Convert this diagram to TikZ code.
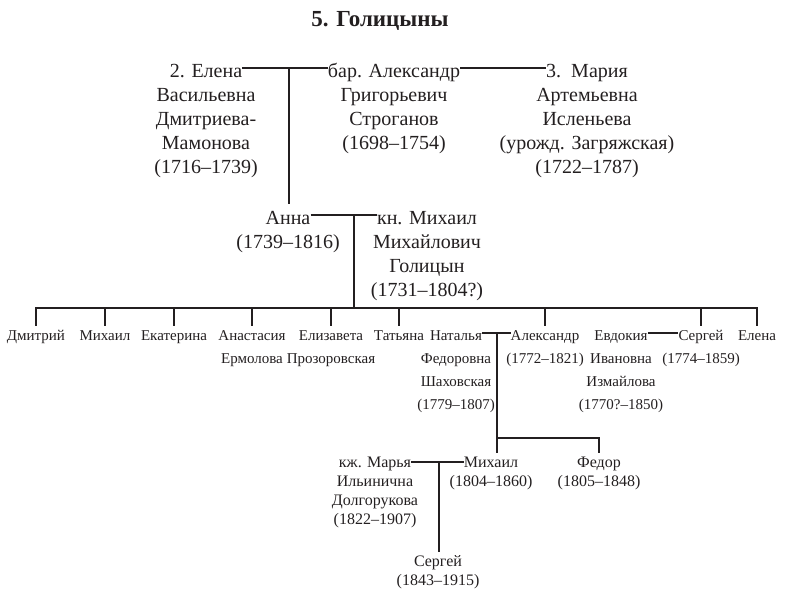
\documentclass[tikz,border=0pt]{standalone}
\usepackage{fontspec}
\setmainfont{Liberation Serif}
\usepackage{xcolor}
\usetikzlibrary{positioning}
\definecolor{ink}{HTML}{231F20}

\tikzset{
  bond/.style={draw=ink, line width=2.8pt},
  kidbond/.style={draw=ink, line width=2.5pt},
  elder/.style={text=ink, inner sep=0pt, font=\fontsize{20}{24}\selectfont, text height=20pt, text depth=2pt},
  elderrest/.style={text=ink, inner sep=0pt, font=\fontsize{20}{24}\selectfont, align=center},
  kid/.style={text=ink, inner sep=0pt, font=\fontsize{15}{23}\selectfont, text height=14pt, text depth=0pt},
  kidrest/.style={text=ink, inner sep=0pt, font=\fontsize{15}{23}\selectfont, align=center},
  grand/.style={text=ink, inner sep=0pt, font=\fontsize{16}{19}\selectfont, text height=14pt, text depth=4pt},
  grandrest/.style={text=ink, inner sep=0pt, font=\fontsize{16}{19}\selectfont, align=center}
}

\begin{document}
\begin{tikzpicture}[x=1pt, y=-1pt]
  \useasboundingbox (0,0) rectangle (800,605);

  \node[text=ink, anchor=base, font=\fontsize{23}{27}\selectfont\bfseries] (title) at (380,27) {5. Голицыны};

  % first generation
  \node[elder] (elena) at (206,68) {2. Елена};
  \node[elderrest, below=5.2pt of elena] (elena-r) {\strut Васильевна\\Дмитриева-\\Мамонова\\(1716--1739)};
  \node[elder] (stroganov) at (394,68) {бар. Александр};
  \node[elderrest, below=5.2pt of stroganov] (stroganov-r) {\strut Григорьевич\\Строганов\\(1698--1754)};
  \node[elder] (maria) at (587,68) {3.~~Мария};
  \node[elderrest, below=5.2pt of maria] (maria-r) {\strut Артемьевна\\Исленьева\\(урожд. Загряжская)\\(1722--1787)};

  \node[elder] (anna) at (288,215) {Анна};
  \node[elderrest, below=5.2pt of anna] (anna-r) {\strut(1739--1816)};
  \node[elder] (golitsyn) at (427,215) {кн. Михаил};
  \node[elderrest, below=5.2pt of golitsyn] (golitsyn-r) {\strut Михайлович\\Голицын\\(1731--1804?)};

  \coordinate (m1) at (289,68);
  \coordinate (m2) at (354,215);
  \coordinate (bar) at (354,308);

  \draw[bond] (elena) -- (stroganov);
  \draw[bond] (stroganov) -- (maria);
  \draw[bond] (m1) -- (m1 |- anna.north);
  \draw[bond] (anna) -- (golitsyn);
  \draw[bond] (m2) -- (bar);

  % children
  \node[kid] (dmitriy) at (36,333) {Дмитрий};
  \node[kid] (mikhail) at (105,333) {Михаил};
  \node[kid] (ekaterina) at (174,333) {Екатерина};
  \node[kid] (anastasia) at (252,333) {Анастасия};
  \node[kidrest, below=6.9pt of anastasia] (anastasia-r) {\strut Ермолова};
  \node[kid] (elizaveta) at (331,333) {Елизавета};
  \node[kidrest, below=6.9pt of elizaveta] (elizaveta-r) {\strut Прозоровская};
  \node[kid] (tatyana) at (399,333) {Татьяна};
  \node[kid] (natalya) at (456,333) {Наталья};
  \node[kidrest, below=6.9pt of natalya] (natalya-r) {\strut Федоровна\\Шаховская\\(1779--1807)};
  \node[kid] (aleksandr) at (545,333) {Александр};
  \node[kidrest, below=6.9pt of aleksandr] (aleksandr-r) {\strut(1772--1821)};
  \node[kid] (evdokia) at (621,333) {Евдокия};
  \node[kidrest, below=6.9pt of evdokia] (evdokia-r) {\strut Ивановна\\Измайлова\\(1770?--1850)};
  \node[kid] (sergey) at (701,333) {Сергей};
  \node[kidrest, below=6.9pt of sergey] (sergey-r) {\strut(1774--1859)};
  \node[kid] (elenad) at (757,333) {Елена};

  \draw[bond, line join=miter] (dmitriy.north) -- (dmitriy.north |- bar) -- (elenad.north |- bar) -- (elenad.north);
  \foreach \k in {mikhail, ekaterina, anastasia, elizaveta, tatyana, aleksandr, sergey}
    \draw[kidbond] (\k.north) -- (\k.north |- bar);

  \draw[kidbond] (natalya) -- (aleksandr);
  \draw[kidbond] (evdokia) -- (sergey);

  % grandchildren
  \node[grand] (marya) at (375,462) {кж. Марья};
  \node[grandrest, below=1.7pt of marya] (marya-r) {\strut Ильинична\\Долгорукова\\(1822--1907)};
  \node[grand] (mikhailg) at (491,462) {Михаил};
  \node[grandrest, below=1.7pt of mikhailg] (mikhailg-r) {\strut(1804--1860)};
  \node[grand] (fedor) at (599,462) {Федор};
  \node[grandrest, below=1.7pt of fedor] (fedor-r) {\strut(1805--1848)};
  \node[grand] (sergeyg) at (438,561) {Сергей};
  \node[grandrest, below=1.7pt of sergeyg] (sergeyg-r) {\strut(1843--1915)};

  \coordinate (m3) at (497,333);
  \coordinate (j3) at (497,438);
  \coordinate (m4) at (439,462);

  \draw[kidbond] (m3) -- (m3 |- mikhailg.north);
  \draw[kidbond] (j3) -| (fedor.north);
  \draw[kidbond] (marya) -- (mikhailg);
  \draw[kidbond] (m4) -- (m4 |- sergeyg.north);
\end{tikzpicture}
\end{document}
